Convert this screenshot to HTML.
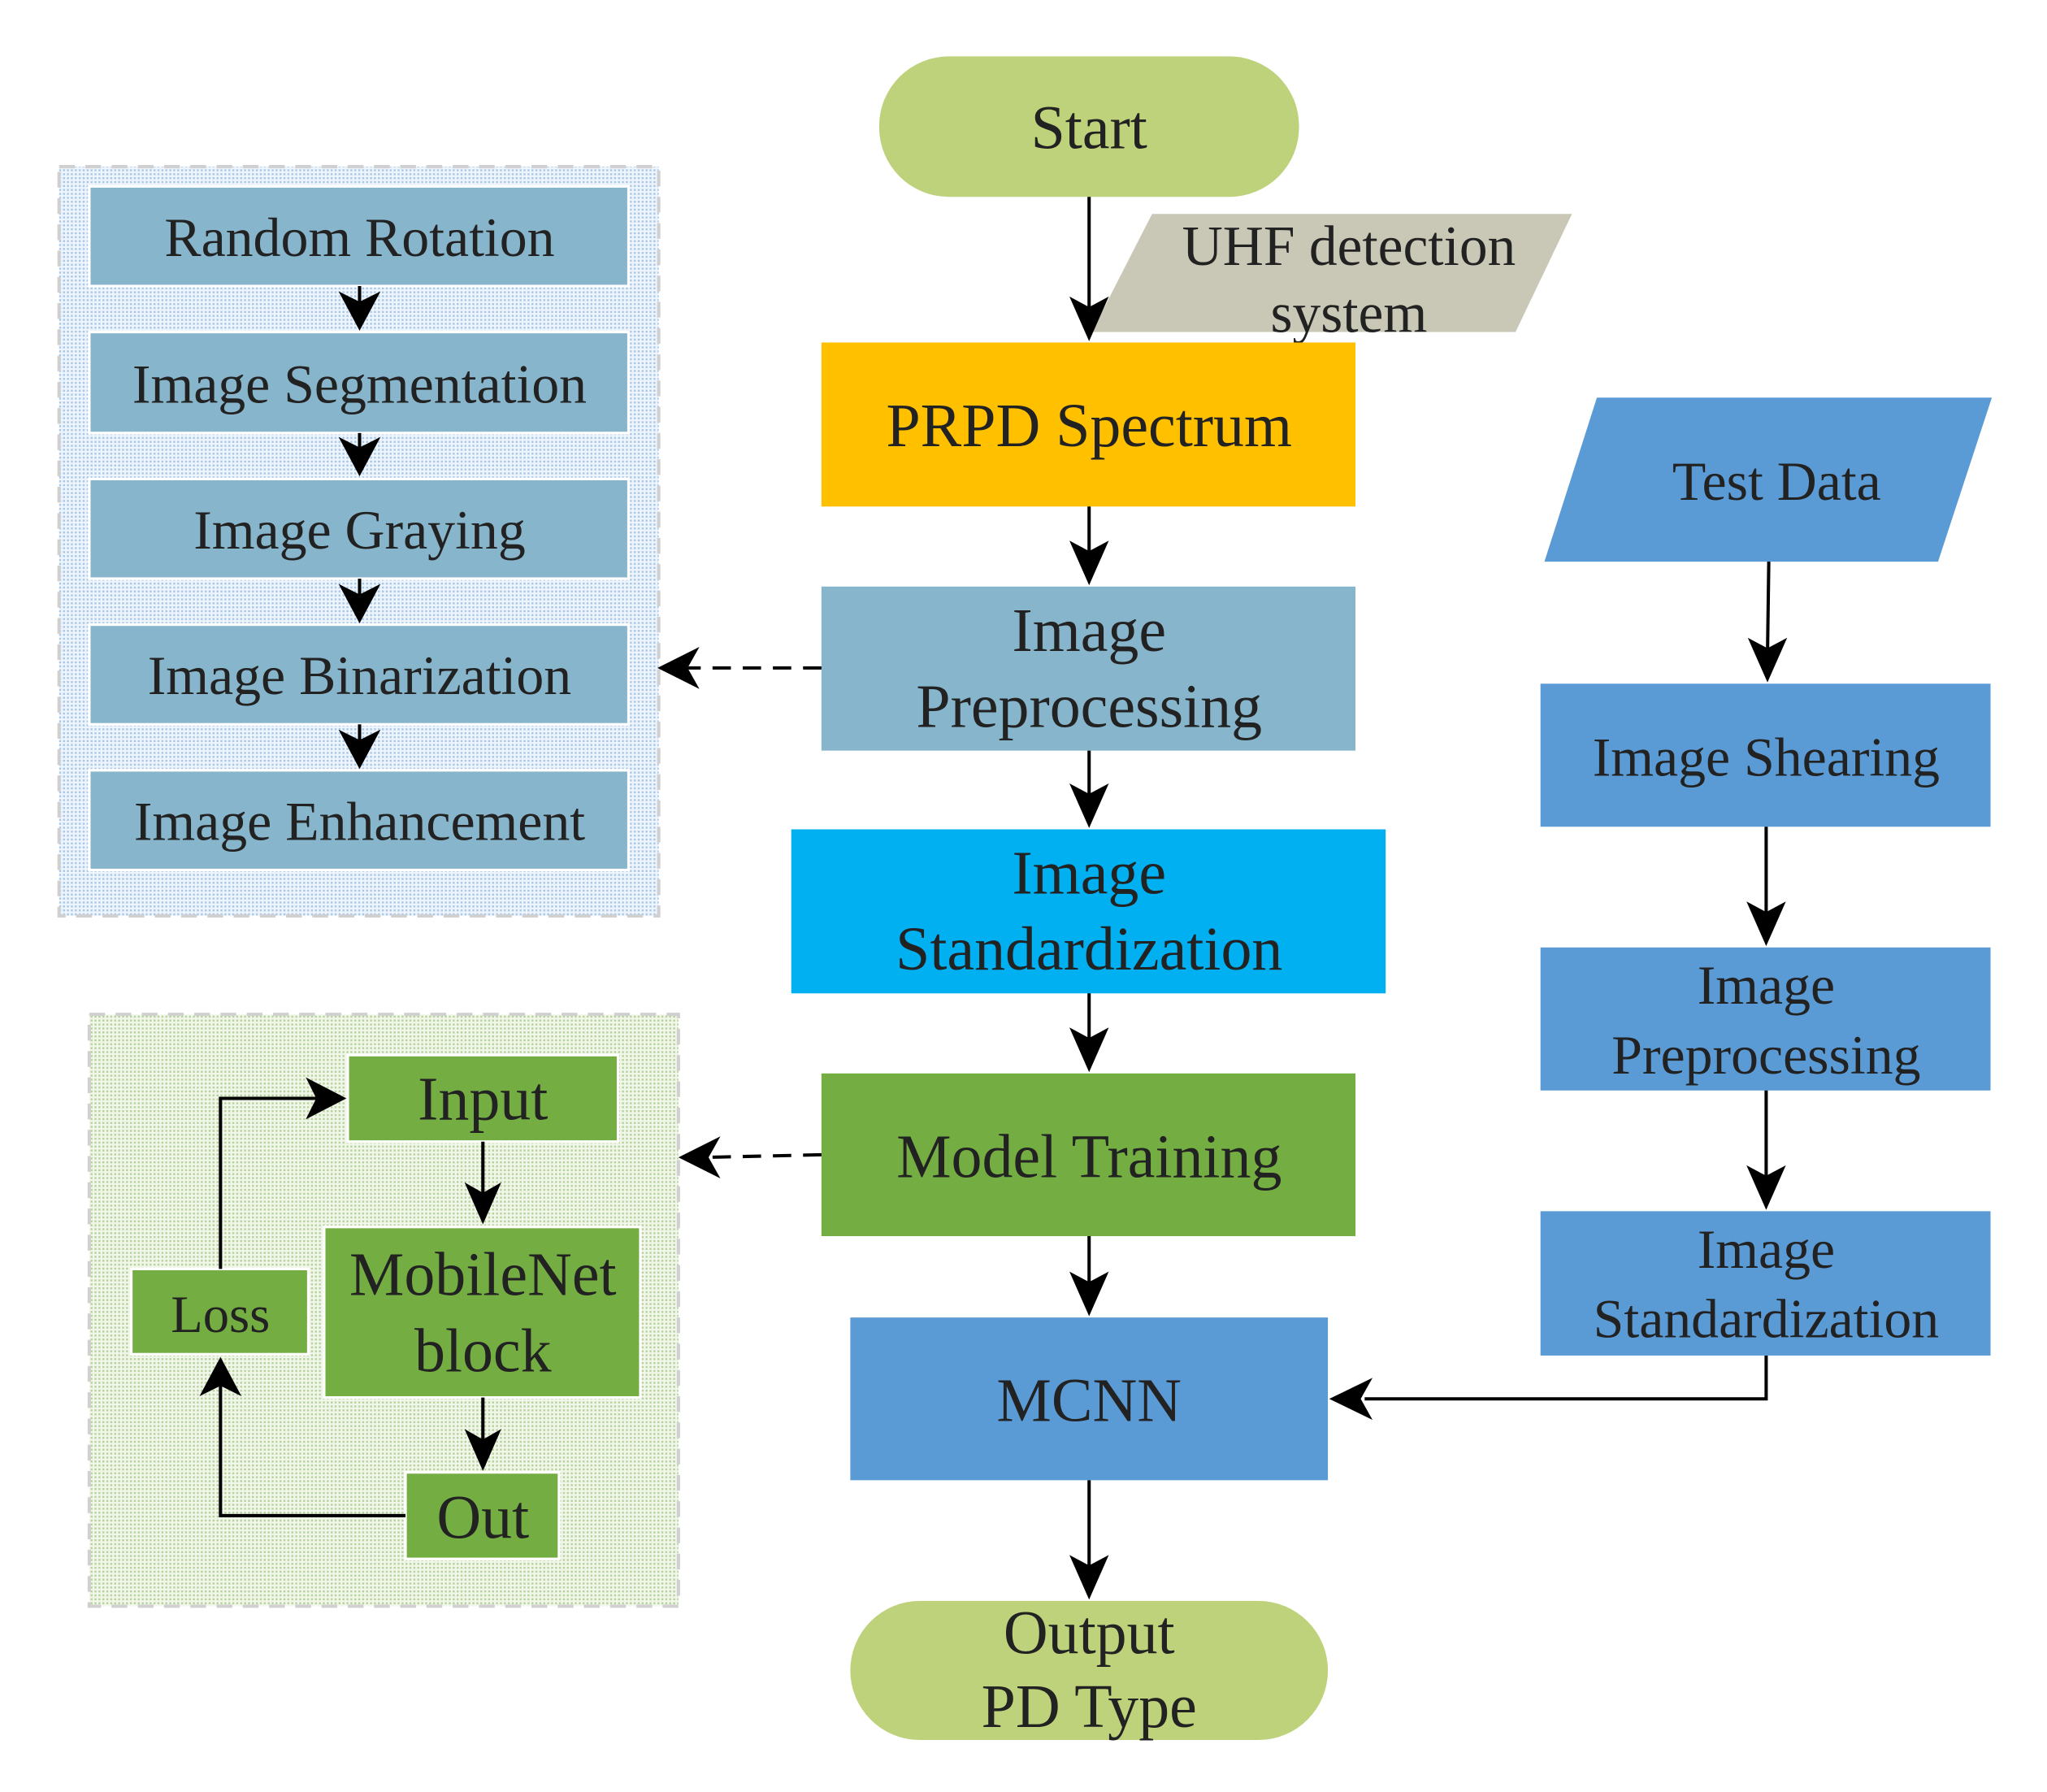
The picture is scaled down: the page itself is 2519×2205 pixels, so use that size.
<!DOCTYPE html>
<html><head><meta charset="utf-8"><style>html,body{margin:0;padding:0;background:#fff}svg{display:block}</style></head>
<body>
<svg width="2519" height="2205" viewBox="0 0 1560 1365.6" xmlns="http://www.w3.org/2000/svg" font-family="Liberation Serif, serif" fill="#222">
<defs>
<pattern id="pb" width="3" height="3" patternUnits="userSpaceOnUse"><rect width="3" height="3" fill="#eef4fb"/><rect width="1.5" height="1.5" fill="#a9c8e8"/></pattern>
<pattern id="pg" width="3" height="3" patternUnits="userSpaceOnUse"><rect width="3" height="3" fill="#f1f6ea"/><rect width="1.5" height="1.5" fill="#b7d29a"/></pattern>
</defs>
<g font-size="47" text-anchor="middle">
<rect x="45" y="127" width="457" height="571" fill="url(#pb)" stroke="#d0d0d0" stroke-width="2.5" stroke-dasharray="12,8"/>
<rect x="68" y="773" width="449" height="451" fill="url(#pg)" stroke="#d0d0d0" stroke-width="2.5" stroke-dasharray="12,8"/>
<g fill="#87b5cb" stroke="#fff" stroke-width="2">
<rect x="68" y="142" width="411" height="76"/><rect x="68" y="253" width="411" height="77"/><rect x="68" y="365" width="411" height="76"/><rect x="68" y="476" width="411" height="76"/><rect x="68" y="587" width="411" height="76"/>
</g>
<g font-size="42">
<text x="274" y="195">Random Rotation</text>
<text x="274" y="307">Image Segmentation</text>
<text x="274" y="418">Image Graying</text>
<text x="274" y="529">Image Binarization</text>
<text x="274" y="640">Image Enhancement</text>
</g>
<g stroke="#000" stroke-width="2.5"><line x1="274" y1="218" x2="274" y2="240"/><line x1="274" y1="330" x2="274" y2="352"/><line x1="274" y1="441" x2="274" y2="463"/><line x1="274" y1="552" x2="274" y2="574"/></g>
<g fill="#000"><path d="M258 222 L274 252 L290 222 L274 230Z"/><path d="M258 333 L274 363 L290 333 L274 341Z"/><path d="M258 445 L274 475 L290 445 L274 453Z"/><path d="M258 556 L274 586 L290 556 L274 564Z"/></g>
<rect x="670" y="43" width="320" height="107" rx="53" fill="#bdd27a"/>
<text x="830" y="113">Start</text>
<polygon points="878,163 1198,163 1155,253 832,253" fill="#c9c7b5"/>
<text x="1028" y="202" font-size="43">UHF detection</text>
<text x="1028" y="253" font-size="43">system</text>
<rect x="626" y="261" width="407" height="125" fill="#ffc000"/>
<text x="830" y="340">PRPD Spectrum</text>
<rect x="626" y="447" width="407" height="125" fill="#87b5cb"/>
<text x="830" y="496">Image</text><text x="830" y="554">Preprocessing</text>
<rect x="603" y="632" width="453" height="125" fill="#00b0f0"/>
<text x="830" y="681">Image</text><text x="830" y="739">Standardization</text>
<rect x="626" y="818" width="407" height="124" fill="#74ae43"/>
<text x="830" y="897">Model Training</text>
<rect x="648" y="1004" width="364" height="124" fill="#5b9bd5"/>
<text x="830" y="1083">MCNN</text>
<rect x="648" y="1220" width="364" height="106" rx="53" fill="#bdd27a"/>
<text x="830" y="1260">Output</text><text x="830" y="1316">PD Type</text>
<g stroke="#000" stroke-width="2.5"><line x1="830" y1="150" x2="830" y2="240"/><line x1="830" y1="386" x2="830" y2="425"/><line x1="830" y1="572" x2="830" y2="610"/><line x1="830" y1="757" x2="830" y2="796"/><line x1="830" y1="942" x2="830" y2="982"/><line x1="830" y1="1128" x2="830" y2="1198"/></g>
<g fill="#000"><path d="M815 226 L830 260 L845 226 L830 234Z"/><path d="M815 412 L830 446 L845 412 L830 420Z"/><path d="M815 597 L830 631 L845 597 L830 605Z"/><path d="M815 783 L830 817 L845 783 L830 791Z"/><path d="M815 969 L830 1003 L845 969 L830 977Z"/><path d="M815 1185 L830 1219 L845 1185 L830 1193Z"/></g>
<g stroke="#000" stroke-width="2.5" stroke-dasharray="14,9"><line x1="626" y1="509" x2="520" y2="509"/><line x1="626" y1="880" x2="536" y2="882"/></g>
<g fill="#000"><path d="M533 493 L501 509 L533 525 L524 509Z"/><path d="M549 866 L517 882 L549 898 L540 882Z"/></g>
<polygon points="1217,303 1518,303 1477,428 1177,428" fill="#5b9bd5"/>
<text x="1354" y="381" font-size="42">Test Data</text>
<g fill="#5b9bd5"><rect x="1174" y="521" width="343" height="109"/><rect x="1174" y="722" width="343" height="109"/><rect x="1174" y="923" width="343" height="110"/></g>
<g font-size="42">
<text x="1346" y="591">Image Shearing</text>
<text x="1346" y="765">Image</text><text x="1346" y="818">Preprocessing</text>
<text x="1346" y="966">Image</text><text x="1346" y="1019">Standardization</text>
</g>
<g stroke="#000" stroke-width="2.5" fill="none"><line x1="1348" y1="428" x2="1347" y2="500"/><line x1="1346" y1="630" x2="1346" y2="700"/><line x1="1346" y1="831" x2="1346" y2="901"/><polyline points="1346,1033 1346,1066 1040,1066"/></g>
<g fill="#000"><path d="M1332 486 L1347 520 L1362 486 L1347 494Z"/><path d="M1331 687 L1346 721 L1361 687 L1346 695Z"/><path d="M1331 888 L1346 922 L1361 888 L1346 896Z"/><path d="M1046 1050 L1013 1066 L1046 1082 L1037 1066Z"/></g>
<g fill="#74ae43" stroke="#fff" stroke-width="2">
<rect x="265" y="804" width="206" height="66"/><rect x="247" y="935" width="241" height="130"/><rect x="100" y="967" width="135" height="65"/><rect x="309" y="1122" width="117" height="66"/>
</g>
<text x="368" y="853">Input</text>
<text x="368" y="987">MobileNet</text><text x="368" y="1045">block</text>
<text x="168" y="1015" font-size="40">Loss</text>
<text x="368" y="1172">Out</text>
<g stroke="#000" stroke-width="2.5" fill="none"><line x1="368" y1="870" x2="368" y2="915"/><line x1="368" y1="1065" x2="368" y2="1102"/><polyline points="168,967 168,837 245,837"/><polyline points="309,1155 168,1155 168,1052"/></g>
<g fill="#000"><path d="M354 901 L368 933 L382 901 L368 909Z"/><path d="M354 1089 L368 1121 L382 1089 L368 1097Z"/><path d="M233 821 L264 837 L233 853 L241 837Z"/><path d="M152 1064 L168 1034 L184 1064 L168 1056Z"/></g>
</g>
</svg>
</body></html>
